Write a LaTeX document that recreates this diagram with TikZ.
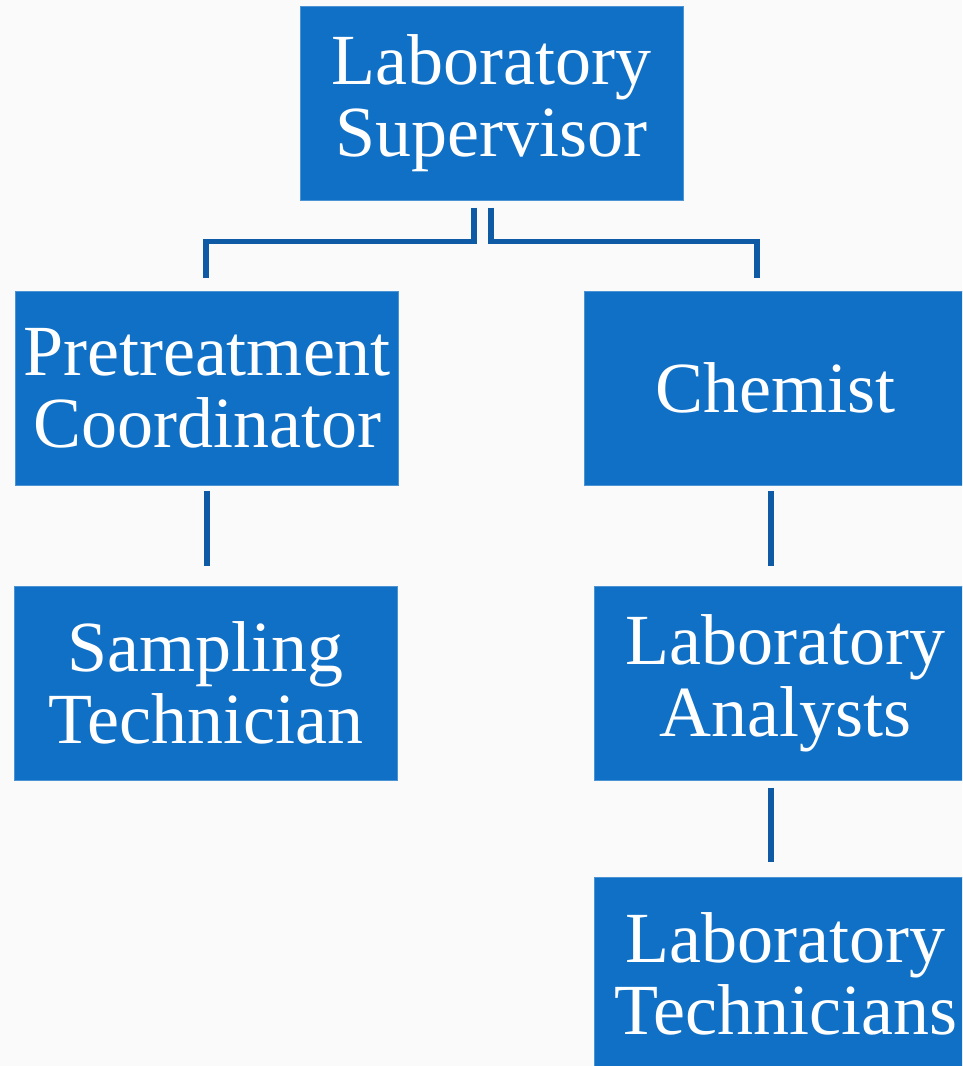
\documentclass[tikz,border=0pt]{standalone}
\usepackage{fontspec}
\setmainfont{Liberation Serif}
\usetikzlibrary{positioning}
\definecolor{boxblue}{HTML}{1070C6}
\definecolor{edgeblue}{HTML}{4C93D3}
\definecolor{linkblue}{HTML}{0F5AA4}
\definecolor{paper}{HTML}{FAFAFA}
\tikzset{
  role/.style={draw=edgeblue, line width=1pt, fill=boxblue, text=white,
    minimum width=383pt, minimum height=194pt, inner sep=0pt, align=center,
    font=\fontsize{72}{72}\selectfont},
  link/.style={draw=linkblue, line width=5.5pt}
}
\begin{document}
\begin{tikzpicture}[x=1pt,y=-1pt]
\useasboundingbox (0,0) rectangle (962,1066);
\clip (0,0) rectangle (962,1066);
\fill[paper] (0,0) rectangle (962,1066);
\node[role] (sup) at (491.5,103) {Laboratory\\Supervisor};
\node[role] (pre) at (207,388) {Pretreatment\\Coordinator};
\node[role] (chem) at (775.5,388) {Chemist};
\node[role] (samp) at (205.5,683) {Sampling\\Technician};
\node[role] (ana) at (785.5,683) {Laboratory\\Analysts};
\node[role] (tech) at (785.5,974) {Laboratory\\Technicians};
% top split
\draw[link] ([xshift=-17.5pt,yshift=-7pt]sup.south) -- ++(0,34) -| ([xshift=-1pt,yshift=13pt]pre.north);
\draw[link] ([xshift=-0.5pt,yshift=-7pt]sup.south) -- ++(0,34) -| ([xshift=-18.5pt,yshift=13pt]chem.north);
% lower links
\draw[link,shorten <=5pt,shorten >=20pt] (pre.south) -- (pre.south |- samp.north);
\draw[link,shorten <=5pt,shorten >=20pt] ([xshift=-4.5pt]chem.south) -- ([xshift=-4.5pt]chem.south |- ana.north);
\draw[link,shorten <=7pt,shorten >=15pt] ([xshift=-14.5pt]ana.south) -- ([xshift=-14.5pt]ana.south |- tech.north);
\end{tikzpicture}
\end{document}
